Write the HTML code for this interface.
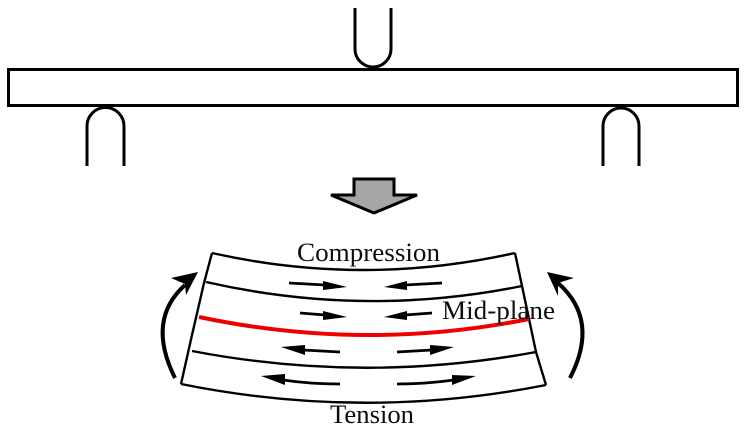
<!DOCTYPE html>
<html>
<head>
<meta charset="utf-8">
<style>
html,body{margin:0;padding:0;background:#fff;width:745px;height:427px;overflow:hidden}
svg{display:block}
text{font-family:"Liberation Serif",serif;font-size:26px;fill:#111}
</style>
</head>
<body>
<svg width="745" height="427" viewBox="0 0 745 427" xmlns="http://www.w3.org/2000/svg">
  <defs><filter id="s" filterUnits="userSpaceOnUse" x="0" y="0" width="745" height="427"><feGaussianBlur stdDeviation="0.35"/></filter></defs>
  <g filter="url(#s)">
  <g fill="none" stroke="#000" stroke-width="3">
    <rect x="8.5" y="69.5" width="729" height="36" stroke-width="3"/>
    <path d="M355 8V49A18 18 0 0 0 391 49V8"/>
    <path d="M87 166V126A18.500 18.500 0 0 1 124 126V166"/>
    <path d="M603 166V126A18 18 0 0 1 639 126V166"/>
  </g>
  <path d="M354 179H394V195H417L374 213L331 195H354Z" fill="#a6a6a6" stroke="#000" stroke-width="3"/>

  <g fill="none" stroke="#000" stroke-width="2.400">
    <path d="M212 253L204 283L192 335L181 384"/>
    <path d="M515 253L522 286L536 352L546 385"/>
    <path d="M212 253Q363 287 515 253"/>
    <path d="M206 282Q364 318 522 286"/>
    <path d="M192 351Q364 384 536 352"/>
    <path d="M181 384Q364 421 546 385"/>
  </g>
  <path d="M199 317Q365 352 529 319" fill="none" stroke="#ee0000" stroke-width="4"/>

  <text x="297" y="261" textLength="143" lengthAdjust="spacingAndGlyphs">Compression</text>
  <text x="442" y="319" textLength="113" lengthAdjust="spacingAndGlyphs">Mid-plane</text>
  <text x="330" y="423" textLength="84" lengthAdjust="spacingAndGlyphs">Tension</text>

  <g fill="none" stroke="#000" stroke-width="4">
    <path d="M175 378Q146 320 185 285"/>
    <path d="M570 378Q600 320 558 283"/>
  </g>
  <path d="M198 272L171 278L185 284L186 295Z"/>
  <path d="M547 272L574 278L558 283L558 296Z"/>

  <g fill="none" stroke="#000" stroke-width="2.800">
    <path d="M289 283L325 285"/>
    <path d="M300 313L325 315"/>
    <path d="M340 352L303 350"/>
    <path d="M340 384Q310 384 283 380"/>
    <path d="M442 283L405 285"/>
    <path d="M432 313L405 315"/>
    <path d="M397 352L432 350"/>
    <path d="M397 384Q425 384 454 380"/>
  </g>
  <path d="M347 287L323 281V290Z"/>
  <path d="M347 317L323 311V320Z"/>
  <path d="M281 347L305 345V355Z"/>
  <path d="M261 376L285 374V385Z"/>
  <path d="M384 287L407 281V290Z"/>
  <path d="M384 317L407 311V320Z"/>
  <path d="M454 347L430 345V355Z"/>
  <path d="M476 376L452 375V385Z"/>
  </g>
</svg>
</body>
</html>
